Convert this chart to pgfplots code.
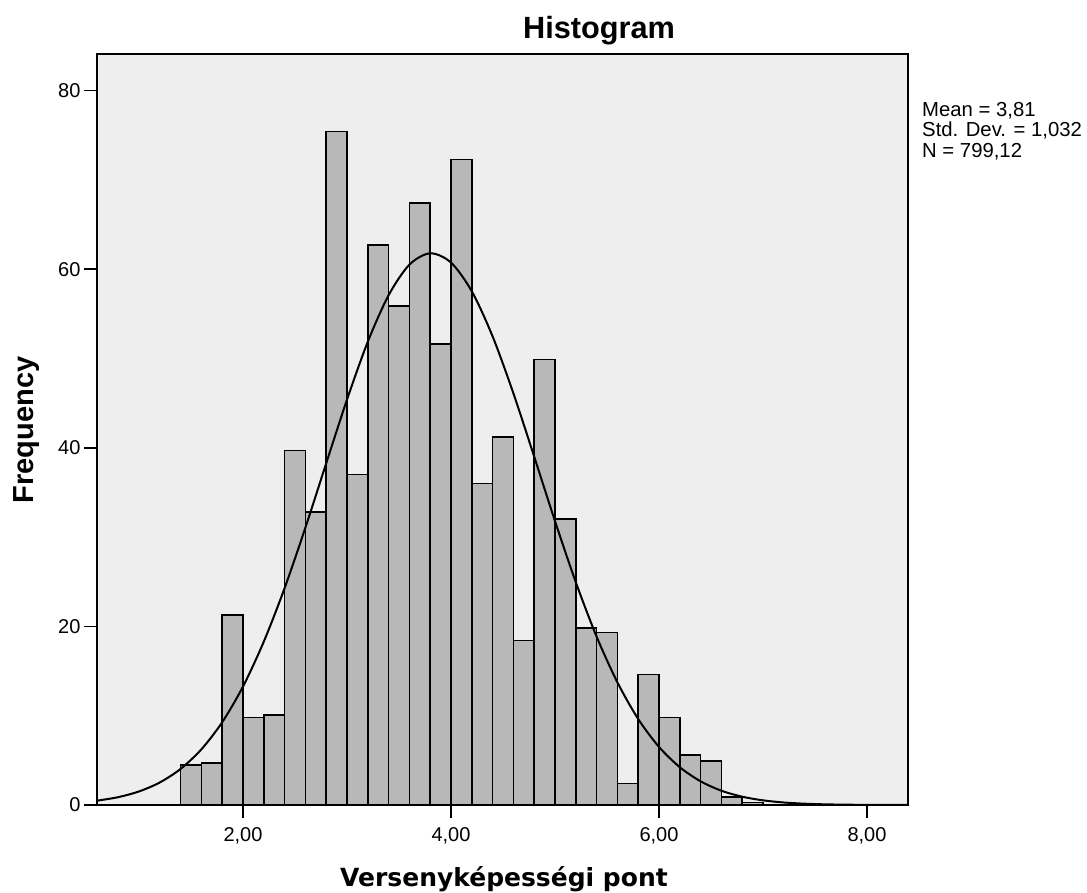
\documentclass[border=0pt]{standalone}
\usepackage{fontspec}
\setmainfont{Liberation Sans}
\newfontfamily\dejavu{DejaVu Sans}
\usepackage{pgfplots}
\pgfplotsset{compat=1.18}
\definecolor{bgcol}{RGB}{238,238,238}
\definecolor{barcol}{RGB}{184,184,184}
\pgfplotstableread{
x y
1.5 4.5
1.7 4.7
1.9 21.3
2.1 9.8
2.3 10.1
2.5 39.7
2.7 32.8
2.9 75.4
3.1 37.0
3.3 62.7
3.5 55.9
3.7 67.4
3.9 51.6
4.1 72.3
4.3 36.0
4.5 41.2
4.7 18.4
4.9 49.9
5.1 32.0
5.3 19.8
5.5 19.3
5.7 2.4
5.9 14.6
6.1 9.8
6.3 5.6
6.5 4.9
6.7 0.9
6.9 0.3
}\bars
\pgfplotstableread{
x y
0.6 0.49
0.8 0.878
1.0 1.517
1.2 2.523
1.4 4.042
1.6 6.237
1.8 9.269
2.0 13.27
2.2 18.30
2.4 24.29
2.6 31.07
2.8 38.27
3.0 45.40
3.2 51.88
3.4 57.09
3.6 60.51
3.8 61.78
4.0 60.74
4.2 57.52
4.4 52.47
4.6 46.09
4.8 39.00
5.0 31.78
5.2 24.94
5.4 18.85
5.6 13.73
5.8 9.625
6.0 6.500
6.2 4.229
6.4 2.649
6.6 1.598
6.8 0.929
7.0 0.520
7.2 0.280
7.4 0.145
7.6 0.073
7.8 0.035
8.0 0.016
8.2 0.007
8.4 0.003
}\curve
\begin{document}
\begin{tikzpicture}
\useasboundingbox (0,0) rectangle (1087pt,893pt);
\begin{axis}[
  at={(97pt,88pt)}, anchor=south west,
  width=811pt, height=751pt, scale only axis,
  xmin=0.596, xmax=8.394, ymin=0, ymax=84.1,
  axis background/.style={fill=bgcol},
  axis line style={line width=1.5pt, black},
  tick align=outside, tick pos=left,
  major tick length=13pt,
  tick style={line width=1.5pt, black},
  xtick={2,4,6,8}, xticklabels={{2,00},{4,00},{6,00},{8,00}},
  ytick={0,20,40,60,80},
  /pgf/number format/assume math mode=true,
  ticklabel style={font=\fontsize{20}{24}\selectfont},
  xticklabel style={yshift=-6pt},
]
\addplot[ybar, bar width=0.2, bar shift=0pt, fill=barcol, draw=none] table[x=x,y=y] {\bars};
\addplot[ybar, bar width=0.2, bar shift=0pt, fill=none, draw=black, line width=1.5pt] table[x=x,y=y] {\bars};
\addplot[no marks, smooth, black, line width=2pt] table[x=x,y=y] {\curve};
\end{axis}
\node[font=\fontsize{30.7}{36}\selectfont\bfseries, anchor=base] at (599pt,854pt) {Histogram};
\node[font=\fontsize{29}{34}\selectfont\bfseries, rotate=90, anchor=center] at (27pt,463pt) {Frequency};
\node[font=\dejavu\fontsize{25}{30}\selectfont\bfseries, anchor=base] at (504pt,6pt) {Versenyképességi pont};
\node[font=\fontsize{20.3}{24}\selectfont, anchor=base west, inner sep=0pt] at (922pt,776pt) {Mean = 3,81};
\node[font=\fontsize{20.3}{24}\selectfont, anchor=base west, inner sep=0pt] at (922pt,756pt) {Std. Dev. = 1,032};
\node[font=\fontsize{20.3}{24}\selectfont, anchor=base west, inner sep=0pt] at (922pt,735pt) {N = 799,12};
\end{tikzpicture}
\end{document}
